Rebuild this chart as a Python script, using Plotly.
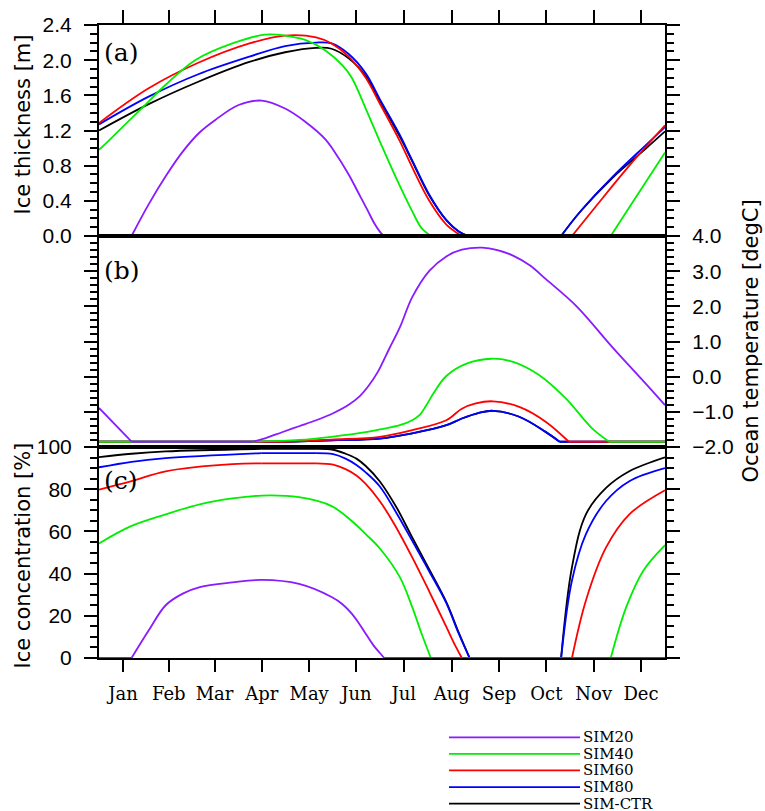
import plotly.graph_objects as go

# ---------------- data ----------------
months = ["Jan", "Feb", "Mar", "Apr", "May", "Jun", "Jul", "Aug", "Sep", "Oct", "Nov", "Dec"]
month_days = [31, 28, 31, 30, 31, 30, 31, 31, 30, 31, 30, 31]

series_names = ["SIM20", "SIM40", "SIM60", "SIM80", "SIM-CTR"]
series_colors = ["#8a1aff", "#00ee00", "#ff0000", "#0000ff", "#000000"]

# (a) ice thickness [m]
thk_day_sim20 = [0, 21, 32, 43, 54, 65, 75, 90, 105, 120, 133, 146, 151, 161, 167, 173, 178, 182, 184, 365]
thk_sim20 = [0, 0, 0.36, 0.68, 0.96, 1.18, 1.32, 1.49, 1.54, 1.45, 1.30, 1.10, 0.98, 0.70, 0.50, 0.30, 0.13, 0.03, 0, 0]

thk_day_sim40 = [0, 6, 28, 43, 62, 86, 107, 120, 133, 146, 157, 163, 172, 181, 188, 194, 202, 208, 214, 330, 344, 365]
thk_sim40 = [0.98, 1.08, 1.46, 1.72, 2.00, 2.19, 2.29, 2.28, 2.23, 2.11, 1.94, 1.80, 1.45, 1.08, 0.80, 0.57, 0.28, 0.09, 0, 0, 0.38, 0.95]

thk_day_sim60 = [0, 32, 64, 97, 120, 140, 150, 161, 172, 181, 194, 202, 213, 224, 234, 305, 321, 342, 365]
thk_sim60 = [1.285, 1.68, 1.97, 2.19, 2.28, 2.26, 2.19, 2.04, 1.80, 1.51, 1.08, 0.78, 0.40, 0.13, 0, 0, 0.35, 0.80, 1.26]

thk_day_sim80 = [0, 32, 64, 97, 120, 140, 150, 161, 172, 181, 194, 202, 213, 224, 232, 238, 298, 310, 331, 353, 365]
thk_sim80 = [1.27, 1.585, 1.84, 2.04, 2.16, 2.20, 2.19, 2.07, 1.85, 1.56, 1.15, 0.86, 0.47, 0.18, 0.05, 0, 0, 0.27, 0.67, 1.04, 1.24]

thk_day_ctr = [0, 32, 64, 97, 120, 140, 150, 161, 172, 181, 194, 202, 213, 224, 232, 238, 298, 310, 331, 353, 365]
thk_ctr = [1.20, 1.50, 1.755, 1.98, 2.09, 2.14, 2.13, 2.02, 1.82, 1.54, 1.13, 0.85, 0.46, 0.18, 0.05, 0, 0, 0.27, 0.66, 1.00, 1.19]

# (b) ocean temperature [degC]
sst_day_sim20 = [0, 21, 99, 108, 118, 129, 140, 151, 161, 168, 174, 180, 187, 194, 202, 213, 224, 234, 247, 257, 267, 278, 288, 308, 331, 353, 365]
sst_sim20 = [-0.89, -1.85, -1.85, -1.74, -1.58, -1.41, -1.24, -1.04, -0.80, -0.56, -0.25, 0.15, 0.78, 1.40, 2.26, 3.01, 3.42, 3.61, 3.67, 3.60, 3.44, 3.16, 2.78, 2.00, 0.84, -0.22, -0.81]

sst_day_sim40 = [0, 99, 129, 150, 172, 181, 194, 202, 207, 211, 216, 224, 237, 253, 267, 284, 301, 318, 329, 365]
sst_sim40 = [-1.85, -1.85, -1.80, -1.71, -1.58, -1.50, -1.38, -1.24, -1.08, -0.82, -0.45, 0.02, 0.37, 0.51, 0.42, 0.04, -0.62, -1.47, -1.85, -1.85]

sst_day_sim60 = [0, 120, 150, 181, 202, 224, 234, 243, 254, 271, 288, 303, 365]
sst_sim60 = [-1.85, -1.85, -1.79, -1.71, -1.52, -1.24, -0.91, -0.76, -0.70, -0.86, -1.28, -1.85, -1.85]

sst_day_sim80 = [0, 120, 150, 181, 202, 224, 234, 245, 254, 271, 288, 297, 365]
sst_sim80 = [-1.85, -1.85, -1.81, -1.76, -1.61, -1.38, -1.19, -1.03, -0.97, -1.14, -1.57, -1.85, -1.85]

sst_day_ctr = [0, 120, 150, 181, 202, 224, 234, 245, 254, 271, 288, 297, 365]
sst_ctr = [-1.85, -1.85, -1.81, -1.76, -1.61, -1.38, -1.19, -1.03, -0.97, -1.14, -1.57, -1.85, -1.85]

# (c) ice concentration [%]
con_day_sim20 = [0, 21, 32, 43, 54, 65, 86, 105, 129, 150, 157, 163, 168, 172, 177, 181, 184, 365]
con_sim20 = [0, 0, 13.0, 25.0, 30.5, 33.6, 35.8, 37.0, 35.1, 28.9, 25.5, 21.0, 16.0, 11.5, 6.0, 2.5, 0, 0]

con_day_sim40 = [0, 21, 43, 65, 86, 105, 129, 150, 163, 172, 181, 194, 202, 208, 214, 330, 340, 351, 365]
con_sim40 = [54.3, 62.6, 68.1, 72.8, 75.6, 77.0, 76.2, 72.0, 64.9, 58.7, 52.0, 38.3, 24.1, 11.6, 0, 0, 24.1, 41.4, 53.5]

con_day_sim60 = [0, 21, 43, 86, 105, 140, 151, 159, 166, 172, 181, 190, 202, 213, 224, 230, 234, 305, 314, 327, 342, 365]
con_sim60 = [79.8, 83.8, 88.5, 91.9, 92.2, 92.2, 91.6, 89.5, 86.5, 82.5, 74.4, 64.0, 47.7, 31.5, 14.7, 5.5, 0, 0, 27.3, 52.4, 68.1, 79.5]

con_day_sim80 = [0, 21, 43, 105, 140, 151, 159, 166, 172, 181, 192, 202, 213, 224, 232, 239, 298, 305, 314, 327, 342, 365]
con_sim80 = [90.4, 93.0, 94.7, 97.1, 97.1, 96.6, 94.5, 91.5, 88.0, 81.4, 68.5, 55.5, 41.0, 26.0, 11.5, 0, 0, 36.7, 58.7, 74.4, 83.8, 90.0]

con_day_ctr = [0, 21, 43, 105, 140, 151, 159, 166, 172, 181, 192, 202, 213, 224, 232, 239, 298, 305, 314, 327, 342, 365]
con_ctr = [95.2, 96.8, 97.9, 99.1, 99.1, 98.7, 96.8, 94.5, 91.0, 83.8, 71.2, 57.1, 42.0, 26.5, 12.0, 0, 0, 43.0, 68.1, 80.6, 88.5, 95.1]

thk_days = [thk_day_sim20, thk_day_sim40, thk_day_sim60, thk_day_sim80, thk_day_ctr]
thk_vals = [thk_sim20, thk_sim40, thk_sim60, thk_sim80, thk_ctr]
sst_days = [sst_day_sim20, sst_day_sim40, sst_day_sim60, sst_day_sim80, sst_day_ctr]
sst_vals = [sst_sim20, sst_sim40, sst_sim60, sst_sim80, sst_ctr]
con_days = [con_day_sim20, con_day_sim40, con_day_sim60, con_day_sim80, con_day_ctr]
con_vals = [con_sim20, con_sim40, con_sim60, con_sim80, con_ctr]

# ---------------- geometry helpers ----------------
W, H = 765, 811
L, R, T, B = 99, 665, 22, 658


def px_x(px):
    return (px - L) / (R - L)


def px_y(py):
    return (B - py) / (B - T)


def split(days, vals):
    """spline pieces for curved parts, straight pieces for flat parts"""
    sx, sy, lx, ly = [], [], [], []
    for i in range(len(days)):
        if i > 0 and vals[i] == vals[i - 1]:
            lx += [days[i - 1], days[i], None]
            ly += [vals[i - 1], vals[i], None]
            sx.append(None)
            sy.append(None)
        sx.append(days[i])
        sy.append(vals[i])
    return sx, sy, lx, ly


fig = go.Figure()
LW = 1.8
panels = [("x", "y", thk_days, thk_vals), ("x2", "y2", sst_days, sst_vals), ("x3", "y3", con_days, con_vals)]
for xa, ya, dd, vv in panels:
    for k in reversed(range(len(series_names))):
        sx, sy, lx, ly = split(dd[k], vv[k])
        fig.add_trace(go.Scatter(x=sx, y=sy, xaxis=xa, yaxis=ya, mode="lines", name=series_names[k],
                                 line=dict(color=series_colors[k], width=LW, shape="spline", smoothing=1.0),
                                 connectgaps=False, hoverinfo="skip"))
        fig.add_trace(go.Scatter(x=lx, y=ly, xaxis=xa, yaxis=ya, mode="lines", name=series_names[k],
                                 line=dict(color=series_colors[k], width=LW), connectgaps=False,
                                 hoverinfo="skip"))

# month tick positions (mid-month)
starts = [sum(month_days[:i]) for i in range(12)]
mids = [s + d / 2 for s, d in zip(starts, month_days)]

xcommon = dict(range=[0, 365], tickvals=mids, ticktext=months, ticks="outside", ticklen=12, tickwidth=1.5,
               tickcolor="black", showline=True, linewidth=2, linecolor="black", mirror=True,
               showgrid=False, zeroline=False, domain=[0, 1])
ycommon = dict(ticks="outside", ticklen=13, tickwidth=1.5, tickcolor="black", showline=True, linewidth=2,
               linecolor="black", mirror="ticks", showgrid=False, zeroline=False, tickformat=".1f",
               tickfont=dict(family="Liberation Sans", size=21, color="black"), ticklabelstandoff=8)

fig.update_layout(
    width=W, height=H, margin=dict(l=L, r=W - R, t=T, b=H - B),
    paper_bgcolor="white", plot_bgcolor="white", showlegend=False,
    xaxis=dict(xcommon, anchor="y", side="top", showticklabels=False, ticklen=13),
    xaxis2=dict(xcommon, anchor="y2", ticks="", showticklabels=False, matches="x"),
    xaxis3=dict(xcommon, anchor="y3", side="bottom", showticklabels=True, matches="x",
                tickfont=dict(family="DejaVu Serif", size=18, color="black"), ticklabelstandoff=6),
    yaxis=dict(ycommon, anchor="x", domain=[2 / 3, 1], range=[0, 2.4], tick0=0, dtick=0.4,
               minor=dict(dtick=0.1, ticklen=7, tickwidth=1.5, tickcolor="black", ticks="outside")),
    yaxis2=dict(ycommon, anchor="x2", domain=[1 / 3, 2 / 3], side="right", range=[-2, 4], tick0=0, dtick=1,
                minor=dict(dtick=0.2, ticklen=7, tickwidth=1.5, tickcolor="black", ticks="outside")),
    yaxis3=dict(ycommon, anchor="x3", domain=[0, 1 / 3], range=[0, 100], tick0=0, dtick=20, tickformat="d",
                minor=dict(dtick=5, ticklen=7, tickwidth=1.5, tickcolor="black", ticks="outside")),
)

ann = []
for lab, py in [("(a)", 50), ("(b)", 269), ("(c)", 480)]:
    ann.append(dict(text=lab, x=px_x(102), y=px_y(py), xref="paper", yref="paper", xanchor="left",
                    yanchor="middle", showarrow=False, font=dict(family="DejaVu Serif", size=25, color="black")))
for lab, px, py in [("Ice thickness [m]", 23, 122), ("Ocean temperature [degC]", 750, 340),
                    ("Ice concentration [%]", 23, 555)]:
    ann.append(dict(text=lab, x=px_x(px), y=px_y(py), xref="paper", yref="paper", xanchor="center",
                    yanchor="middle", textangle=-90, showarrow=False,
                    font=dict(family="DejaVu Sans", size=21, color="black")))

# legend drawn below the panels
shapes = []
leg_x0, leg_x1, leg_y0, leg_dy = 449, 580, 737.7, 16.65
for k, (nm, col) in enumerate(zip(series_names, series_colors)):
    yy = px_y(leg_y0 + k * leg_dy)
    shapes.append(dict(type="line", xref="paper", yref="paper", x0=px_x(leg_x0), x1=px_x(leg_x1), y0=yy, y1=yy,
                       line=dict(color=col, width=LW)))
    ann.append(dict(text=nm, x=px_x(leg_x1 + 2), y=yy, xref="paper", yref="paper", xanchor="left",
                    yanchor="middle", showarrow=False, borderpad=0,
                    font=dict(family="DejaVu Serif", size=15, color="black")))

fig.update_layout(annotations=ann, shapes=shapes)
fig.write_html("out.html", config={"displayModeBar": False},
               post_script="document.body.style.margin='0';document.body.style.overflow='hidden';")
